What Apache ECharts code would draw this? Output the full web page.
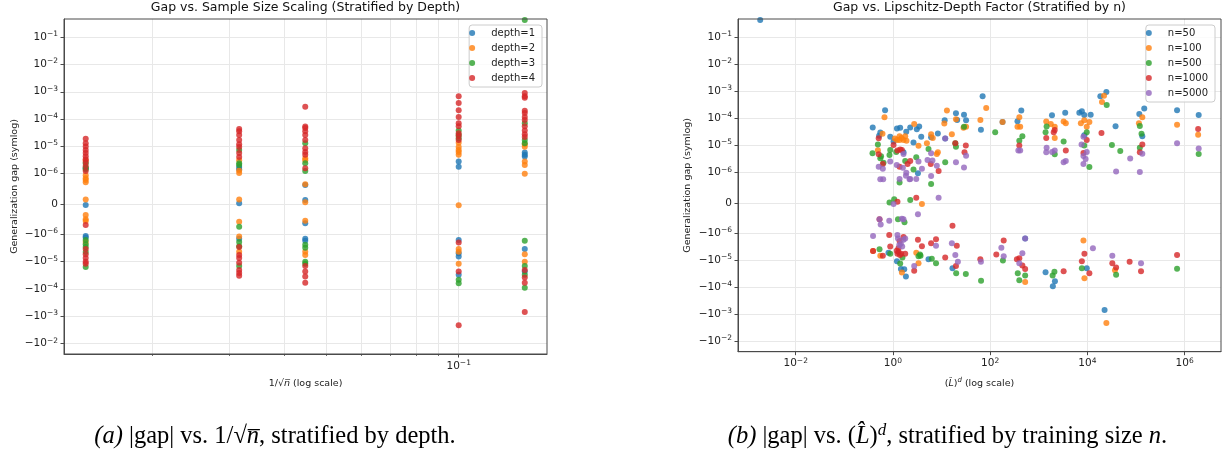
<!DOCTYPE html>
<html><head><meta charset="utf-8">
<script src="https://cdn.jsdelivr.net/npm/echarts@6/dist/echarts.min.js"></script>
<style>html,body{margin:0;padding:0;background:#fff}#c{width:1222px;height:453px}</style>
</head><body><div id="c"></div>
<script>
// ---------------- DATA ----------------
// Left panel: [n, gap] per depth  (x = 1/sqrt(n))
const depthNames = ['depth=1', 'depth=2', 'depth=3', 'depth=4'];
const depth1 = [
  [5000,1.6e-6],[5000,-3e-8],[5000,-1.15e-6],[5000,-1.3e-6],
  [1000,1.75e-6],[1000,1.45e-6],[1000,3e-8],[1000,-1.45e-6],
  [500,6.3e-7],[500,1.3e-7],[500,-6.3e-7],[500,-1.45e-6],[500,-1.7e-6],
  [100,2.8e-6],[100,1.8e-6],[100,-1.6e-6],[100,-4.9e-6],[100,-6.5e-6],[100,-3e-5],
  [50,6e-6],[50,4.9e-6],[50,4.3e-6],[50,-3.4e-6],[50,-2.3e-5]
];
const depth2 = [
  [5000,3.1e-6],[5000,9.5e-7],[5000,8.5e-7],[5000,7.9e-7],[5000,7.2e-7],[5000,1.5e-7],[5000,-3.6e-7],[5000,-5e-7],[5000,-5.6e-7],[5000,-1.9e-6],
  [1000,3.1e-6],[1000,1.3e-6],[1000,1.05e-6],[1000,1.5e-7],[1000,-5.8e-7],[1000,-1.2e-6],[1000,-4.3e-6],
  [500,3.7e-6],[500,3.1e-6],[500,6.5e-7],[500,6e-8],[500,-5.5e-7],[500,-4.3e-6],[500,-5.7e-6],
  [100,1.35e-5],[100,9.4e-6],[100,7.3e-6],[100,6.2e-6],[100,4.9e-6],[100,-4e-8],[100,-3.4e-6],[100,-4.3e-6],[100,-1.2e-5],
  [50,1.2e-5],[50,9.6e-6],[50,2.8e-6],[50,2.1e-6],[50,1e-6],[50,-5.3e-6],[50,-1e-5]
];
const depth3 = [
  [5000,2.4e-6],[5000,1.7e-6],[5000,1.45e-6],[5000,-1.6e-6],[5000,-2.3e-6],[5000,-2.9e-6],[5000,-4.4e-6],[5000,-1.56e-5],
  [1000,7.3e-6],[1000,2.4e-6],[1000,2.1e-6],[1000,-7.5e-7],[1000,-1.9e-6],[1000,-2.7e-6],[1000,-1.45e-5],
  [500,1.3e-5],[500,2.4e-6],[500,1.25e-6],[500,-2.4e-6],[500,-3.1e-6],[500,-1e-5],[500,-1.2e-5],
  [100,3.8e-5],[100,2.6e-5],[100,2e-5],[100,-4.6e-5],[100,-6.2e-5],
  [50,0.42],[50,7.1e-5],[50,1.7e-5],[50,1.3e-5],[50,-1.7e-6],[50,-1.45e-5],[50,-3e-5],[50,-8.9e-5]
];
const depth4 = [
  [5000,1.9e-5],[5000,1.3e-5],[5000,1e-5],[5000,7.3e-6],[5000,5.7e-6],[5000,4.4e-6],[5000,3.4e-6],[5000,2.7e-6],[5000,1.9e-6],[5000,1.25e-6],
  [5000,-6.9e-7],[5000,-3.4e-6],[5000,-5.3e-6],[5000,-7.3e-6],[5000,-1e-5],[5000,-1.2e-5],
  [1000,4.3e-5],[1000,3.6e-5],[1000,2.6e-5],[1000,1.7e-5],[1000,1.2e-5],[1000,9.4e-6],[1000,5.7e-6],[1000,4.1e-6],
  [1000,-2.9e-6],[1000,-5.7e-6],[1000,-7.3e-6],[1000,-1.1e-5],[1000,-2e-5],[1000,-2.6e-5],[1000,-3.3e-5],
  [500,2.8e-4],[500,5.3e-5],[500,4.7e-5],[500,3.6e-5],[500,2.6e-5],[500,1.7e-5],[500,8.6e-6],[500,6.2e-6],[500,4.9e-6],[500,1.6e-6],
  [500,-1.45e-5],[500,-2.3e-5],[500,-3.5e-5],[500,-5.9e-5],
  [100,6.9e-4],[100,3.9e-4],[100,2.1e-4],[100,1.2e-4],[100,7e-5],[100,5.5e-5],[100,3e-5],[100,2.4e-5],[100,1.7e-5],
  [100,-2e-6],[100,-2.3e-5],[100,-2.1e-3],
  [50,9.1e-4],[50,6.9e-4],[50,6e-4],[50,2e-4],[50,1.66e-4],[50,1.2e-4],[50,9.2e-5],[50,5.5e-5],[50,3.8e-5],[50,2.8e-5],[50,2.2e-5],
  [50,-2e-5],[50,-3.8e-5],[50,-5.9e-5],[50,-6.9e-4]
];

// Right panel: [(L_hat)^d, gap] per training size n
const nNames = ['n=50', 'n=100', 'n=500', 'n=1000', 'n=5000'];
const n50 = [
  [0.00186,0.42],[0.69,2.0e-4],[0.384,4.6e-5],[0.52,2.3e-5],[0.55,3.0e-5],[1.21,4.2e-5],[1.41,4.5e-5],[0.88,2.1e-5],[1.03,1.4e-5],
  [1.65,5.6e-6],[1.88,3.2e-5],[2.27,4.6e-5],[3.1,4.0e-5],[3.47,5.0e-5],[2.65,1.3e-5],[3.82,2.1e-5],[3.27,9.8e-7],[6.1,2.0e-5],
  [8.4,2.8e-5],[11.9,1.8e-5],[11.6,8.5e-5],[19.8,1.55e-4],[21,8.8e-5],[29,1.35e-4],[32,8.5e-5],[70,6.6e-4],[64.6,3.8e-5],
  [180,7.4e-5],[365,7.9e-5],[437,1.95e-4],[1870,1.3e-4],[3500,1.6e-4],[6830,1.6e-4],[7700,1.85e-4],[8630,1.33e-4],[11700,1.35e-4],
  [8630,2.4e-5],[18500,6.6e-4],[24600,9.4e-4],[38000,5.1e-5],[117000,1.45e-4],[148000,2.3e-4],[135000,2.2e-5],[700000,2.0e-4],[1950000,1.33e-4],
  [0.81,-5.4e-6],[1.21,-1.1e-5],[1.46,-2.15e-5],[1.71,-2.2e-5],[1.85,-4.0e-5],[5.4,-9.4e-6],[16.8,-2.0e-5],[525,-1.6e-6],
  [1380,-2.8e-5],[2150,-6.0e-5],[1950,-9.2e-5],[9720,-2.0e-5],[22600,-6.9e-4]
];
const n100 = [
  [0.67,1.1e-4],[0.61,2.7e-5],[0.49,6.7e-6],[1.21,1.6e-5],[1.37,1.6e-5],[1.79,2.2e-5],[1.65,1.6e-5],[1.37,2.2e-5],[1.1,1.8e-5],
  [1.5,1.9e-5],[1.9,1.5e-5],[2.74,6.2e-5],[3.36,9.8e-6],[6.1,2.6e-5],[5.0,1.2e-5],[6.6,1.9e-5],[8.0,4.9e-6],[8.4,5.7e-6],
  [12.9,1.95e-4],[11.4,6.5e-5],[19.8,9.3e-5],[28.3,4.5e-5],[32,4.9e-5],[16.3,2.6e-5],[83,2.4e-4],[63,8.8e-5],[180,7.4e-5],
  [398,1.1e-4],[415,4.9e-5],[365,4.9e-5],[1426,7.6e-5],[1770,6.2e-5],[2130,4.9e-5],[2130,1.9e-5],[3250,7.6e-5],[3600,6.6e-5],
  [7350,6.6e-5],[8630,8.5e-5],[11000,7.4e-5],[9700,4.9e-5],[22000,6.8e-4],[20000,4.0e-4],[135000,1.1e-4],[115000,6.6e-5],
  [700000,5.8e-5],[1900000,2.5e-5],
  [3.95,-4e-8],[0.39,-4.6e-6],[0.55,-6.9e-6],[1.53,-2.9e-5],[3.02,-5.4e-6],[3.36,-1.3e-5],[525,-6.5e-5],[8300,-1.9e-6],
  [8700,-4.7e-5],[37000,-2.4e-5],[24600,-2.1e-3]
];
const n500 = [
  [0.49,1.1e-5],[0.38,5.2e-6],[0.57,4.0e-6],[0.64,2.3e-6],[0.55,3.4e-6],[0.85,4.5e-6],[0.88,6.8e-6],[1.17,5.8e-6],[1.37,6.7e-7],
  [1.79,2.7e-6],[2.65,1.3e-6],[3.02,3.7e-6],[5.4,7.4e-6],[6.1,6.2e-7],[11.9,2.4e-6],[19.2,1.2e-5],[19.8,9.0e-6],[29,4.9e-5],
  [127,3.1e-5],[398,1.5e-5],[460,2.2e-5],[1450,5.0e-5],[1380,3.1e-5],[2130,4.8e-6],[3250,1.4e-5],[9700,3.1e-5],[8630,1.0e-5],
  [11000,1.6e-6],[25000,3.1e-4],[32000,1.05e-5],[47500,6.3e-6],[120000,5.2e-5],[130000,2.7e-5],[120000,8.3e-6],[1950000,4.9e-6],
  [0.85,1e-8],[1.06,1.2e-7],[1.27,-5.5e-7],[1.73,-6.5e-7],[2.27,9e-8],[0.53,-4.0e-6],[0.88,-5.9e-6],[1.57,-8.1e-6],[1.41,-1.35e-5],
  [3.36,-7.3e-6],[3.7,-6.9e-6],[6.3,-8.9e-6],[7.7,-1.3e-5],[3.6,-6.3e-6],[20,-3.1e-5],[31.6,-3.3e-5],[65,-5.8e-5],[183,-1.05e-5],
  [370,-3.1e-5],[398,-5.5e-5],[525,-3.7e-5],[1930,-3.7e-5],[2100,-2.7e-5],[7700,-2.0e-5],[39000,-3.5e-5],[700000,-2.1e-5]
];
const n1000 = [
  [0.51,1.85e-5],[0.51,4.8e-6],[0.62,2.1e-6],[1.03,1.05e-5],[1.41,7.2e-6],[1.24,6.5e-6],[1.53,6.8e-6],[1.37,1.65e-6],[2.0,2.1e-6],
  [2.27,2.7e-6],[6.0,2.1e-6],[8.7,1.15e-6],[19.2,1.2e-5],[31.6,1.0e-5],[29.7,5.6e-6],[398,1.0e-5],[2030,3.1e-5],[2130,3.7e-5],
  [1426,1.9e-5],[3600,6.5e-6],[9700,1.6e-5],[8300,5.3e-6],[19500,2.9e-5],[135000,1.1e-5],[120000,5.6e-6],[1900000,4.1e-5],
  [1.24,3.7e-8],[3.02,1.7e-7],[0.53,-5.5e-7],[16.8,-7.6e-7],[0.84,-1.2e-6],[1.65,-1.4e-6],[1.37,-2.0e-6],[3.27,-1.8e-6],
  [3.95,-3.1e-6],[6.1,-2.4e-6],[7.7,-1.7e-6],[20.6,-3.0e-6],[190,-1.9e-6],[134,-6.3e-6],[0.39,-4.6e-6],[0.62,-6.9e-6],
  [0.88,-3.2e-6],[1.3,-3.7e-6],[1.48,-5.9e-6],[1.79,-5.9e-6],[1.24,-5.9e-6],[1.3,-5.0e-6],[1.4,-6.5e-6],[1.2,-4.5e-6],
  [2.74,-2.5e-5],[11.9,-8.1e-6],[19.8,-1.65e-5],[62.8,-9.4e-6],[355,-9.4e-6],[398,-8.5e-6],[460,-1.6e-5],[525,-2.15e-5],
  [3250,-2.6e-5],[8700,-5.8e-6],[7700,-1.1e-5],[11000,-3.1e-5],[32600,-1.3e-5],[39000,-1.9e-5],[74000,-1.15e-5],
  [127000,-2.6e-5],[700000,-6.5e-6]
];
const n5000 = [
  [0.51,1.65e-6],[0.62,1.4e-6],[0.55,7.8e-7],[0.63,7.8e-7],[0.88,2.6e-6],[1.2,1.9e-6],[1.65,4.9e-6],[1.6,1.5e-6],[1.85,9e-7],
  [2.2,7.8e-7],[1.37,7.9e-7],[1.88,1.0e-6],[2.27,7.9e-7],[3.02,7.9e-7],[3.36,2.6e-6],[3.95,1.4e-6],[6.1,5.2e-6],[5.15,2.9e-6],
  [6.5,2.8e-6],[8.0,1.8e-6],[6.1,8.9e-7],[11.9,1.8e-5],[32,4.2e-6],[19.8,2.4e-6],[29,1.55e-6],[380,6.5e-6],[415,6.5e-6],
  [1450,8.3e-6],[1426,5.6e-6],[1880,5.8e-6],[2130,6.5e-6],[3250,2.4e-6],[3600,2.7e-6],[7600,1.1e-5],[8300,2.1e-5],[8300,4.1e-6],
  [9700,5.8e-6],[9200,3.2e-6],[8300,2.1e-6],[39000,1.1e-6],[76000,3.3e-6],[135000,5.0e-6],[120000,1.05e-6],[700000,1.2e-5],
  [1950000,7.8e-6],
  [1.03,-4e-8],[3.27,-3.8e-7],[8.7,1.7e-7],[0.53,-5.5e-7],[0.56,-7.2e-7],[0.84,-6.0e-7],[1.53,-5.3e-7],[1.65,-5.5e-7],
  [0.39,-1.3e-6],[1.24,-1.2e-6],[1.27,-1.6e-6],[1.65,-1.8e-6],[1.79,-1.6e-6],[1.45,-2.5e-6],[1.55,-3.2e-6],[1.35,-2.8e-6],
  [2.74,-1.65e-5],[7.7,-3.0e-6],[16.3,-2.4e-6],[19.2,-6.5e-6],[21.7,-1.15e-5],[64.6,-1.15e-5],[170,-3.5e-6],[190,-7.3e-6],
  [525,-1.6e-6],[460,-5.6e-6],[398,-1.3e-5],[13000,-3.7e-6],[32600,-6.9e-6],[127000,-1.3e-5]
];

// Ticks
const yTickValues = [-1e-2,-1e-3,-1e-4,-1e-5,-1e-6,0,1e-6,1e-5,1e-4,1e-3,1e-2,1e-1];
const yTickLabels = ['{b|−10}{s|−2}','{b|−10}{s|−3}','{b|−10}{s|−4}','{b|−10}{s|−5}','{b|−10}{s|−6}','{b|0}',
                     '{b|10}{s|−6}','{b|10}{s|−5}','{b|10}{s|−4}','{b|10}{s|−3}','{b|10}{s|−2}','{b|10}{s|−1}'];
const leftXTicks = [0.1];
const leftXTickLabels = ['{b|10}{s|−1}'];
const leftXMinor = [0.02,0.03,0.04,0.05,0.06,0.07,0.08,0.09];
const rightXTicks = [1e-2,1,1e2,1e4,1e6];
const rightXTickLabels = ['{b|10}{s|−2}','{b|10}{s|0}','{b|10}{s|2}','{b|10}{s|4}','{b|10}{s|6}'];

// ---------------- HELPERS ----------------
const LINTHRESH = 1e-6, LINSCALE_ADJ = 1 / (1 - 0.1);
function symlog(v) {
  const a = Math.abs(v);
  if (a <= LINTHRESH) return v / LINTHRESH * LINSCALE_ADJ;
  return Math.sign(v) * (LINSCALE_ADJ + Math.log10(a / LINTHRESH));
}
const yTickT = yTickValues.map(symlog);
const Y_MIN = -5.49, Y_MAX = 6.775;
const COLORS = ['#1f77b4','#ff7f0e','#2ca02c','#d62728','#9467bd'];
const FONT = 'DejaVu Sans';
const TXT = '#222222';
const SPINE = '#4a4a4a';
const GRIDC = '#e8e8e8';

const richLab = {
  b: {fontFamily: FONT, fontSize: 10.5, color: TXT, lineHeight: 14},
  s: {fontFamily: FONT, fontSize: 7.5, color: TXT, lineHeight: 8, verticalAlign: 'top'}
};
function fmtY(v) { const i = yTickT.findIndex(t => Math.abs(t - v) < 1e-6); return i < 0 ? '' : yTickLabels[i]; }
function fmtLog(ticks, labels) {
  return function (v) {
    const i = ticks.findIndex(t => Math.abs(Math.log10(t) - Math.log10(v)) < 1e-6);
    return i < 0 ? '' : labels[i];
  };
}

function yAxisCfg(gridIndex, nameGap) {
  return {
    type: 'value', gridIndex, min: Y_MIN, max: Y_MAX, z: 3,
    name: 'Generalization gap (symlog)', nameLocation: 'middle', nameGap, nameRotate: 90,
    nameTextStyle: {fontFamily: FONT, fontSize: 9.5, color: TXT},
    axisLine: {show: true, onZero: false, lineStyle: {color: SPINE, width: 1}},
    axisTick: {show: true, length: 3.5, customValues: yTickT, lineStyle: {color: SPINE, width: 1}},
    axisLabel: {customValues: yTickT, margin: 6, formatter: fmtY, rich: richLab, color: TXT, fontFamily: FONT, fontSize: 10.5},
    splitLine: {show: false}
  };
}

function scatter(name, data, xi, yi, color, xf) {
  return {
    type: 'scatter', name, xAxisIndex: xi, yAxisIndex: yi, symbol: 'circle', symbolSize: 6,
    itemStyle: {color, opacity: 0.8}, emphasis: {disabled: true}, z: 2, animation: false,
    data: data.map(p => [xf(p[0]), symlog(p[1])])
  };
}
function gridLines(xi, yi, xVals) {
  return {
    type: 'scatter', name: '_grid' + xi, xAxisIndex: xi, yAxisIndex: yi, data: [], silent: true, z: 1,
    markLine: {
      silent: true, symbol: ['none', 'none'], z: 1, animation: false, label: {show: false},
      lineStyle: {color: GRIDC, width: 1, type: 'solid'}, emphasis: {disabled: true},
      data: [...yTickT.map(t => ({yAxis: t})), ...xVals.map(v => ({xAxis: v}))]
    }
  };
}

const invSqrt = n => 1 / Math.sqrt(n);
const ident = x => x;

const legendBase = {
  orient: 'vertical', top: 25, itemWidth: 28, itemHeight: 6, itemGap: 3, icon: 'circle',
  padding: [2, 7, 3, 0], backgroundColor: 'rgba(255,255,255,0.8)', borderColor: '#cccccc',
  borderWidth: 1, borderRadius: 3, selectedMode: false,
  textStyle: {fontFamily: FONT, fontSize: 10, lineHeight: 12, color: TXT}
};

const CAPF = 'Liberation Serif';
const capRich = {
  r: {fontFamily: CAPF, fontSize: 24.5, fontWeight: 'normal', color: '#000', lineHeight: 29},
  i: {fontFamily: CAPF, fontSize: 24.5, fontWeight: 'normal', fontStyle: 'italic', color: '#000', lineHeight: 29},
  p: {fontFamily: CAPF, fontSize: 17, fontWeight: 'normal', fontStyle: 'italic', color: '#000', lineHeight: 17, verticalAlign: 'top'}
};

const chart = echarts.init(document.getElementById('c'), null, {renderer: 'canvas'});
chart.setOption({
  animation: false,
  backgroundColor: '#ffffff',
  title: [
    {text: 'Gap vs. Sample Size Scaling (Stratified by Depth)', left: 305.5, top: 1.5, textAlign: 'center', padding: 0,
     textStyle: {fontFamily: FONT, fontSize: 12.5, fontWeight: 'normal', color: '#111'}},
    {text: 'Gap vs. Lipschitz-Depth Factor (Stratified by n)', left: 979.5, top: 1.5, textAlign: 'center', padding: 0,
     textStyle: {fontFamily: FONT, fontSize: 12.5, fontWeight: 'normal', color: '#111'}},
    {text: '{i|(a)}{r| |gap| vs. 1/√}{i|n̅}{r|, stratified by depth.}', left: 275, top: 422, textAlign: 'center', padding: 0,
     textStyle: {fontWeight: 'normal', rich: capRich}},
    {text: '{i|(b)}{r| |gap| vs. (}{i|L̂}{r|)}{p|d}{r|, stratified by training size }{i|n}{r|.}', left: 947.5, top: 422, textAlign: 'center', padding: 0,
     textStyle: {fontWeight: 'normal', rich: capRich}}
  ],
  legend: [
    Object.assign({}, legendBase, {data: depthNames, right: 680}),
    Object.assign({}, legendBase, {data: nNames, right: 7})
  ],
  grid: [
    {left: 64, top: 19, width: 483, height: 335, show: true, borderColor: SPINE, borderWidth: 1, backgroundColor: 'transparent', z: 3, containLabel: false, outerBoundsMode: 'none'},
    {left: 738, top: 19, width: 483, height: 332.7, show: true, borderColor: SPINE, borderWidth: 1, backgroundColor: 'transparent', z: 3, containLabel: false, outerBoundsMode: 'none'}
  ],
  xAxis: [
    {type: 'log', gridIndex: 0, min: 0.01262, max: 0.1589, position: 'bottom', z: 3,
     name: '{a|1/√}{m|n̅}{a| (log scale)}', nameLocation: 'middle', nameGap: 25,
     nameTextStyle: {rich: {a: {fontFamily: FONT, fontSize: 9.5, color: TXT}, m: {fontFamily: FONT, fontSize: 9.5, fontStyle: 'italic', color: TXT}}},
     axisLine: {show: true, onZero: false, lineStyle: {color: SPINE, width: 1}},
     axisTick: {show: true, length: 3.5, customValues: leftXTicks, lineStyle: {color: SPINE, width: 1}},
     axisLabel: {customValues: leftXTicks, margin: 5, formatter: fmtLog(leftXTicks, leftXTickLabels), rich: richLab, color: TXT},
     splitLine: {show: false}, minorTick: {show: false}},
    {type: 'log', gridIndex: 0, min: 0.01262, max: 0.1589, position: 'bottom', z: 3,
     axisLine: {show: false, onZero: false},
     axisTick: {show: true, length: 2, customValues: leftXMinor, lineStyle: {color: SPINE, width: 0.8}},
     axisLabel: {show: false}, splitLine: {show: false}},
    {type: 'log', gridIndex: 1, min: 6.5e-4, max: 5.61e6, position: 'bottom', z: 3,
     name: '{a|(}{m|L̂}{a|)}{s|d}{a| (log scale)}', nameLocation: 'middle', nameGap: 25,
     nameTextStyle: {rich: {a: {fontFamily: FONT, fontSize: 9.5, color: TXT, lineHeight: 13}, m: {fontFamily: FONT, fontSize: 9.5, fontStyle: 'italic', color: TXT, lineHeight: 13}, s: {fontFamily: FONT, fontSize: 7, fontStyle: 'italic', color: TXT, lineHeight: 8, verticalAlign: 'top'}}},
     axisLine: {show: true, onZero: false, lineStyle: {color: SPINE, width: 1}},
     axisTick: {show: true, length: 3.5, customValues: rightXTicks, lineStyle: {color: SPINE, width: 1}},
     axisLabel: {customValues: rightXTicks, margin: 5, formatter: fmtLog(rightXTicks, rightXTickLabels), rich: richLab, color: TXT},
     splitLine: {show: false}}
  ],
  yAxis: [yAxisCfg(0, 44), yAxisCfg(1, 45)],
  series: [
    gridLines(0, 0, leftXMinor.concat(leftXTicks)),
    scatter(depthNames[0], depth1, 0, 0, COLORS[0], invSqrt),
    scatter(depthNames[1], depth2, 0, 0, COLORS[1], invSqrt),
    scatter(depthNames[2], depth3, 0, 0, COLORS[2], invSqrt),
    scatter(depthNames[3], depth4, 0, 0, COLORS[3], invSqrt),
    gridLines(2, 1, rightXTicks),
    scatter(nNames[0], n50, 2, 1, COLORS[0], ident),
    scatter(nNames[1], n100, 2, 1, COLORS[1], ident),
    scatter(nNames[2], n500, 2, 1, COLORS[2], ident),
    scatter(nNames[3], n1000, 2, 1, COLORS[3], ident),
    scatter(nNames[4], n5000, 2, 1, COLORS[4], ident)
  ]
});
</script></body></html>
